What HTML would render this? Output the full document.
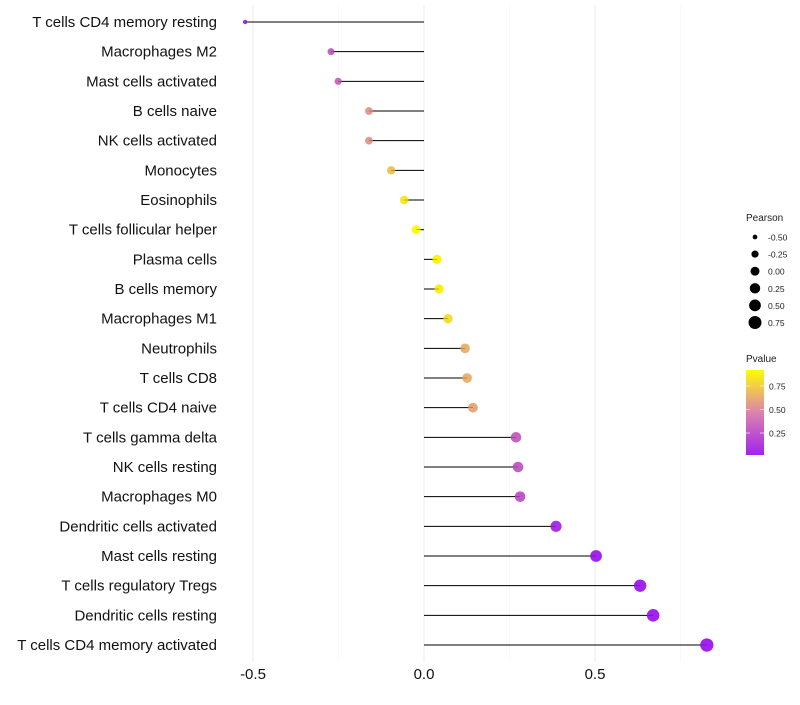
<!DOCTYPE html>
<html><head><meta charset="utf-8"><style>
body{margin:0;background:#fff;font-family:"Liberation Sans",sans-serif}
</style></head><body>
<svg id="chart" width="800" height="700" xmlns="http://www.w3.org/2000/svg" font-family="Liberation Sans, sans-serif"></svg>
<script>
const categories=["T cells CD4 memory resting","Macrophages M2","Mast cells activated","B cells naive","NK cells activated","Monocytes","Eosinophils","T cells follicular helper","Plasma cells","B cells memory","Macrophages M1","Neutrophils","T cells CD8","T cells CD4 naive","T cells gamma delta","NK cells resting","Macrophages M0","Dendritic cells activated","Mast cells resting","T cells regulatory  Tregs ","Dendritic cells resting","T cells CD4 memory activated"];
const pearson=[-0.523,-0.272,-0.251,-0.161,-0.161,-0.096,-0.058,-0.023,0.038,0.044,0.070,0.120,0.126,0.143,0.269,0.275,0.281,0.386,0.503,0.632,0.670,0.827];
const pvalue=[0.05,0.32,0.34,0.57,0.57,0.72,0.86,0.94,0.91,0.89,0.82,0.66,0.66,0.62,0.32,0.30,0.27,0.08,0.02,0.02,0.02,0.016];
const xTicks=[-0.5,0,0.5];
const xMinor=[-0.25,0.25,0.75];
const sizeLegend=[-0.5,-0.25,0,0.25,0.5,0.75];
const colorTicks=[0.25,0.5,0.75];
const svg=document.getElementById('chart');
const NS='http://www.w3.org/2000/svg';
const X=v=>424+v*342;
const Y=i=>22+i*(645-22)/21;
const R=v=>Math.sqrt(Math.max(1,20+29*v));
function mix(a,b,t){return a.map((c,i)=>Math.round(c+(b[i]-c)*t));}
function col(p){const s0=[160,32,240],s1=[222,136,170],s2=[255,255,0];
 const c=p<0.5?mix(s0,s1,p/0.5):mix(s1,s2,(p-0.5)/0.45>1?1:(p-0.5)/0.45);return `rgb(${c})`;}
function el(t,a,p){const e=document.createElementNS(NS,t);for(const k in a)e.setAttribute(k,a[k]);(p||svg).appendChild(e);return e;}
const grid=el('g',{});


xTicks.forEach(v=>el('line',{x1:X(v),x2:X(v),y1:5,y2:662,stroke:'#ebebeb','stroke-width':1},grid));
xMinor.forEach(v=>el('line',{x1:X(v),x2:X(v),y1:5,y2:662,stroke:'#f4f4f4','stroke-width':0.6},grid));
const xa=el('g',{});


xTicks.forEach(v=>{const t=el('text',{x:X(v),y:679,'text-anchor':'middle','font-size':15,fill:'#111'},xa);t.textContent=v===0?'0.0':v.toFixed(1);});
categories.forEach((c,i)=>{
 const y=Y(i);
 const lab=el('text',{x:217,y:y+5,'text-anchor':'end','font-size':15,fill:'#111'});
 lab.textContent=c;
 
 
 const ln=el('line',{x1:X(0),x2:X(pearson[i]),y1:y,y2:y,stroke:'#000','stroke-width':1});
 
 
 const ci=el('circle',{cx:X(pearson[i]),cy:y,r:R(pearson[i]),fill:col(pvalue[i])});
 
 
 el('line',{x1:X(0),x2:X(pearson[i]),y1:y,y2:y,stroke:'#000','stroke-width':0.5,'stroke-opacity':0.5});
});
const lg=el('g',{});


el('text',{x:746,y:221,'font-size':10,fill:'#222'},lg).textContent='Pearson';
sizeLegend.forEach((v,i)=>{const y=237+i*17.1;el('circle',{cx:755,cy:y,r:R(v),fill:'#000'},lg);
 el('text',{x:768,y:y+3.5,'font-size':8.5,fill:'#222'},lg).textContent=v.toFixed(2);});
const cg=el('g',{});


el('text',{x:746,y:362,'font-size':10,fill:'#222'},cg).textContent='Pvalue';
const defs=el('defs',{});const gr=el('linearGradient',{id:'pg',x1:0,y1:1,x2:0,y2:0},defs);
[0,0.25,0.5,0.75,1].forEach(s=>{const p=0.016+s*(0.94-0.016);el('stop',{offset:s,'stop-color':col(p)},gr);});
el('rect',{x:746,y:370,width:18,height:85,fill:'url(#pg)'},cg);
const CY=p=>455-(p-0.016)/(0.92-0.016)*85;
colorTicks.forEach(p=>{el('line',{x1:746,x2:750,y1:CY(p),y2:CY(p),stroke:'#fff','stroke-opacity':0.6},cg);el('line',{x1:760,x2:764,y1:CY(p),y2:CY(p),stroke:'#fff','stroke-opacity':0.6},cg);
 el('text',{x:769,y:CY(p)+3.5,'font-size':8.5,fill:'#222'},cg).textContent=p.toFixed(2);});
</script>
</body></html>
